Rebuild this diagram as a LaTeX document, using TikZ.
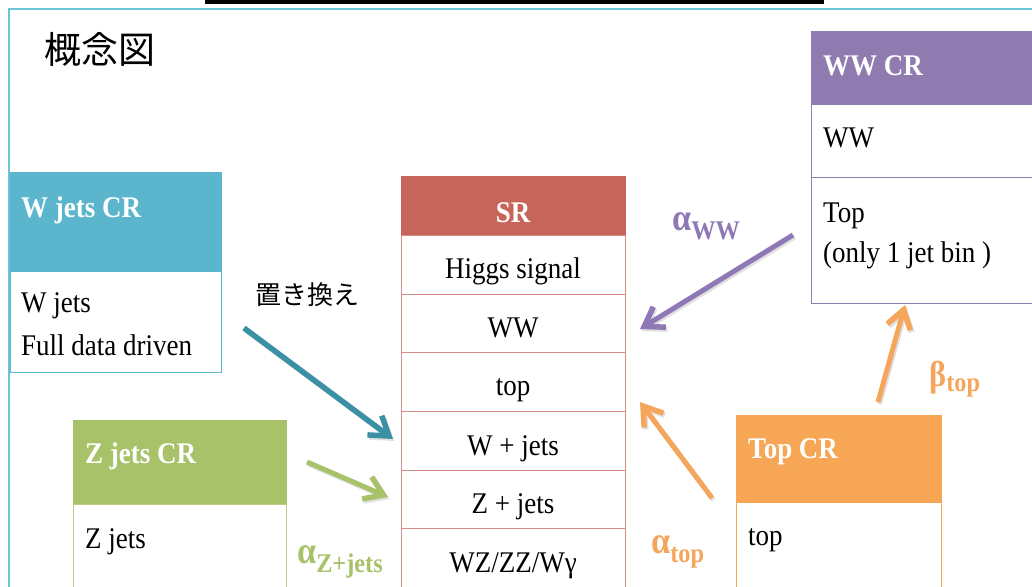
\documentclass[tikz,border=0pt]{standalone}
\usepackage{fontspec}
\setmainfont{Liberation Serif}[FakeStretch=0.9]
\newfontfamily\cjk{Noto Sans CJK JP}
\usetikzlibrary{arrows.meta}
\definecolor{cyanH}{HTML}{5BB6CD}
\definecolor{frameC}{HTML}{6CC4D6}
\definecolor{tealA}{HTML}{3A91A6}
\definecolor{srH}{HTML}{C8655A}
\definecolor{srB}{HTML}{D58C85}
\definecolor{wwH}{HTML}{8F7BB0}
\definecolor{zH}{HTML}{A8C26A}
\definecolor{topH}{HTML}{F6A654}
\definecolor{purA}{HTML}{8E78B6}
\definecolor{orA}{HTML}{F5A65B}
\tikzset{
  box/.style={rectangle, draw, line width=1.2pt, inner sep=0pt, anchor=north west},
  hdr/.style={anchor=base west, inner sep=0pt, text=white, font=\fontsize{30pt}{34pt}\selectfont\bfseries},
  bod/.style={anchor=base west, inner sep=0pt, text=black, font=\fontsize{30pt}{34pt}\selectfont},
  row/.style={anchor=base, inner sep=0pt, text=black, font=\fontsize{30pt}{34pt}\selectfont},
  tip/.style={-{Straight Barb[length=18pt,width=24pt,line width=5.5pt]}},
  arr/.style={line width=5pt, tip},
  shad/.style={line width=5pt, black, opacity=0.12, tip, transform canvas={shift={(1.5pt,-2pt)}}},
  lbl/.style={anchor=base west, inner sep=0pt, font=\bfseries},
}
\newcommand\greek[3]{{\fontsize{#3}{#3}\selectfont #1}{\fontsize{27pt}{27pt}\selectfont\raisebox{-9pt}{#2}}}
\begin{document}
\begin{tikzpicture}[x=1pt,y=-1pt]
\clip (0,0) rectangle (1032,586);
\fill[white] (0,0) rectangle (1032,586);
% frame
\fill[black] (205,0) rectangle (824,4);
\draw[frameC, line width=2pt] (9,600) -- (9,9) -- (1040,9);
% title
\node[anchor=west, inner sep=0pt, font=\cjk\fontsize{37pt}{40pt}\selectfont] (title) at (44,49) {概念図};

% W jets CR
\node[box, fill=cyanH, draw=cyanH, minimum width=211pt, minimum height=99pt] (wjh) at (10,172) {};
\node[box, fill=white, draw=cyanH, minimum width=211pt, minimum height=101pt] (wjb) at (10,271) {};
\node[hdr] (wjht) at (21,217) {W jets CR};
\node[bod] (wjb1) at (21,312) {W jets};
\node[bod] (wjb2) at (21,355) {Full data driven};
\node[font=\cjk\fontsize{26pt}{30pt}\selectfont, inner sep=0pt] (okikae) at (307,295) {置き換え};

% SR
\node[box, fill=srH, draw=srH, minimum width=224pt, minimum height=59pt] (srh) at (401,176) {};
\node[box, draw=srB, fill=white, minimum width=224pt, minimum height=59pt] (r1) at (401,235) {};
\node[box, draw=srB, fill=white, minimum width=224pt, minimum height=58pt] (r2) at (401,294) {};
\node[box, draw=srB, fill=white, minimum width=224pt, minimum height=59pt] (r3) at (401,352) {};
\node[box, draw=srB, fill=white, minimum width=224pt, minimum height=59pt] (r4) at (401,411) {};
\node[box, draw=srB, fill=white, minimum width=224pt, minimum height=58pt] (r5) at (401,470) {};
\node[box, draw=srB, fill=white, minimum width=224pt, minimum height=70pt] (r6) at (401,528) {};
\node[hdr, anchor=base] (srt) at (513,222) {SR};
\node[row] (r1t) at (513,278) {Higgs signal};
\node[row] (r2t) at (513,337) {WW};
\node[row] (r3t) at (513,395) {top};
\node[row] (r4t) at (513,455) {W + jets};
\node[row] (r5t) at (513,513) {Z + jets};
\node[row] (r6t) at (513,572) {WZ/ZZ/Wγ};

% WW CR
\node[box, fill=wwH, draw=wwH, minimum width=240pt, minimum height=73pt] (wwh) at (811,31) {};
\node[box, fill=white, draw=wwH, minimum width=240pt, minimum height=73pt] (wwb1) at (811,104) {};
\node[box, fill=white, draw=wwH, minimum width=240pt, minimum height=126pt] (wwb2) at (811,177) {};
\node[hdr] (wwht) at (823,75) {WW CR};
\node[bod] (wwb1t) at (823,147) {WW};
\node[bod] (wwb2t) at (823,222) {Top};
\node[bod] (wwb3t) at (823,262) {(only 1 jet bin )};

% Z jets CR
\node[box, fill=zH, draw=zH, minimum width=213pt, minimum height=84pt] (zh) at (73,420) {};
\node[box, fill=white, draw=zH!80, minimum width=213pt, minimum height=100pt] (zb) at (73,504) {};
\node[hdr] (zht) at (85,463) {Z jets CR};
\node[bod] (zbt) at (85,548) {Z jets};

% Top CR
\node[box, fill=topH, draw=topH, minimum width=205pt, minimum height=87pt] (th) at (736,415) {};
\node[box, fill=white, draw=topH, minimum width=205pt, minimum height=100pt] (tb) at (736,502) {};
\node[hdr] (tht) at (748,458) {Top CR};
\node[bod] (tbt) at (748,545) {top};

% arrow end points
\coordinate (a1s) at (244,328); \coordinate (a1e) at (393,439);
\coordinate (a2s) at (307,462); \coordinate (a2e) at (388,497);
\coordinate (a3s) at (793,235); \coordinate (a3e) at (640,329);
\coordinate (a4s) at (712,498); \coordinate (a4e) at (640,402);
\coordinate (a5s) at (878,402); \coordinate (a5e) at (905,305);
\foreach \s/\e in {a1s/a1e,a2s/a2e,a3s/a3e,a4s/a4e,a5s/a5e}
  \draw[shad] (\s) -- (\e);
\draw[arr, tealA, line width=5.5pt] (a1s) -- (a1e);
\draw[arr, zH] (a2s) -- (a2e);
\draw[arr, purA] (a3s) -- (a3e);
\draw[arr, orA] (a4s) -- (a4e);
\draw[arr, orA] (a5s) -- (a5e);

% labels
\node[lbl, text=purA] (aww) at (672,230) {\greek{α}{WW}{38pt}};
\node[lbl, text=zH] (az) at (297,563) {\greek{α}{Z+jets}{38pt}};
\node[lbl, text=orA] (at) at (651,553) {\greek{α}{top}{38pt}};
\node[lbl, text=orA] (bt) at (929,386) {{\fontsize{36pt}{36pt}\selectfont β}{\fontsize{27pt}{27pt}\selectfont\raisebox{-5pt}{top}}};
\end{tikzpicture}
\end{document}
